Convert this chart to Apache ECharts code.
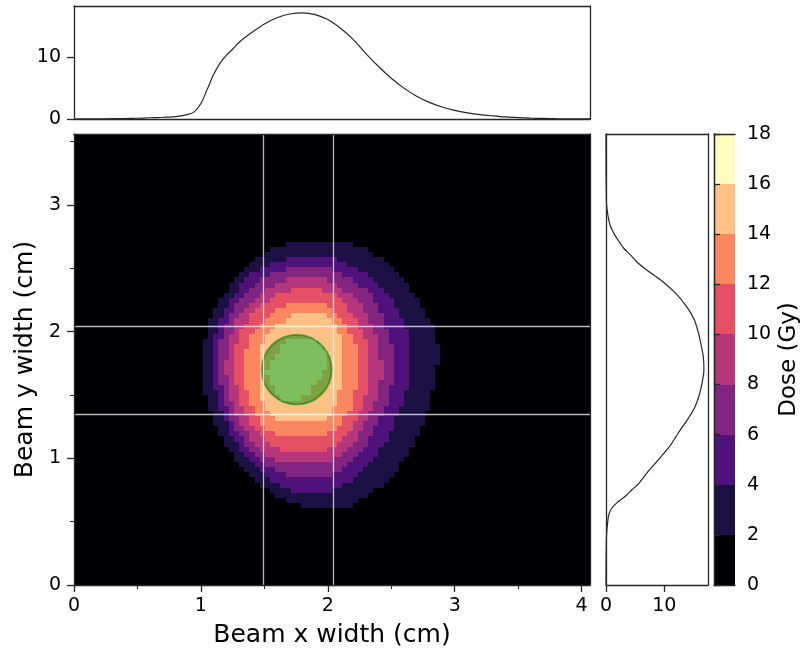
<!DOCTYPE html>
<html>
<head>
<meta charset="utf-8">
<script src="https://cdn.jsdelivr.net/npm/echarts@6/dist/echarts.min.js"></script>
<style>
  html, body { margin: 0; padding: 0; background: #ffffff; }
  #chart { width: 805px; height: 654px; }
</style>
</head>
<body>
<div id="chart"></div>
<script>
// ---- Dose bands (Gy) and the colour of each band ----
const doseLevels = [0, 2, 4, 6, 8, 10, 12, 14, 16, 18];
const bandColors = ['#000004', '#1c1044', '#4f127b', '#812581', '#b5367a',
                    '#e55064', '#fb8761', '#fec287', '#fcfdbf'];

// ---- Isodose outlines, rows of [y, xLeft, xRight] in cm, from top to bottom ----
const iso2 = [
  [2.71, 1.74, 2.16], [2.66, 1.58, 2.30], [2.565, 1.43, 2.44], [2.434, 1.29, 2.57],
  [2.302, 1.18, 2.68], [2.171, 1.11, 2.76], [2.039, 1.06, 2.83], [1.908, 1.025, 2.87],
  [1.776, 1.02, 2.875], [1.645, 1.02, 2.85], [1.513, 1.03, 2.82], [1.381, 1.07, 2.79],
  [1.250, 1.12, 2.74], [1.118, 1.19, 2.68], [0.987, 1.28, 2.60], [0.855, 1.40, 2.50],
  [0.724, 1.56, 2.35], [0.645, 1.72, 2.21], [0.592, 1.87, 2.12]
];
const iso4 = [
  [2.584, 1.70, 2.03], [2.50, 1.49, 2.22], [2.434, 1.38, 2.355], [2.302, 1.265, 2.47],
  [2.171, 1.186, 2.55], [2.039, 1.133, 2.62], [1.908, 1.094, 2.66], [1.776, 1.094, 2.66],
  [1.645, 1.094, 2.64], [1.513, 1.12, 2.62], [1.381, 1.16, 2.565], [1.25, 1.21, 2.51],
  [1.118, 1.278, 2.447], [0.987, 1.383, 2.355], [0.855, 1.514, 2.224], [0.776, 1.646, 2.092],
  [0.737, 1.738, 2.027]
];
const iso6 = [
  [2.50, 1.70, 1.99], [2.434, 1.514, 2.171], [2.302, 1.357, 2.329], [2.171, 1.252, 2.408],
  [2.039, 1.186, 2.46], [1.908, 1.147, 2.50], [1.776, 1.141, 2.526], [1.645, 1.147, 2.526],
  [1.513, 1.173, 2.486], [1.381, 1.212, 2.447], [1.25, 1.265, 2.381], [1.118, 1.344, 2.316],
  [0.987, 1.449, 2.211], [0.882, 1.619, 2.066], [0.855, 1.698, 2.014]
];
const iso8 = [
  [2.421, 1.70, 1.96], [2.302, 1.475, 2.171], [2.171, 1.331, 2.289], [2.039, 1.252, 2.355],
  [1.908, 1.212, 2.408], [1.776, 1.199, 2.421], [1.645, 1.199, 2.421], [1.513, 1.226, 2.395],
  [1.381, 1.265, 2.342], [1.25, 1.331, 2.276], [1.118, 1.422, 2.197], [1.013, 1.541, 2.092],
  [0.96, 1.672, 1.987]
];
const iso10 = [
  [2.329, 1.725, 1.935], [2.302, 1.619, 2.04], [2.171, 1.436, 2.171], [2.039, 1.331, 2.25],
  [1.908, 1.278, 2.303], [1.776, 1.265, 2.324], [1.645, 1.265, 2.324], [1.513, 1.291, 2.303],
  [1.381, 1.331, 2.263], [1.25, 1.409, 2.197], [1.118, 1.514, 2.092], [1.066, 1.619, 1.987]
];
const iso12 = [
  [2.236, 1.698, 1.935], [2.171, 1.593, 2.04], [2.039, 1.449, 2.145], [1.908, 1.37, 2.211],
  [1.776, 1.344, 2.237], [1.645, 1.344, 2.237], [1.513, 1.37, 2.211], [1.381, 1.409, 2.171],
  [1.25, 1.501, 2.092], [1.158, 1.619, 1.961]
];
const iso14 = [
  [2.158, 1.751, 1.961], [2.039, 1.593, 2.066], [1.908, 1.475, 2.119], [1.776, 1.449, 2.119],
  [1.645, 1.449, 2.119], [1.513, 1.462, 2.092], [1.381, 1.514, 2.04], [1.276, 1.619, 1.935]
];
const iso16 = [
  [1.95, 1.70, 1.84], [1.90, 1.64, 1.96], [1.83, 1.60, 2.00], [1.75, 1.55, 2.00],
  [1.70, 1.52, 1.97], [1.60, 1.54, 1.91], [1.50, 1.60, 1.85], [1.45, 1.66, 1.76]
];

// ---- Dose profiles along x (top panel) and along y (right panel) ----
const xProfilePos = [0, 0.1, 0.2, 0.3, 0.4, 0.5, 0.6, 0.7, 0.8, 0.9, 0.95, 1.0, 1.05, 1.1, 1.15,
  1.2, 1.25, 1.3, 1.4, 1.5, 1.6, 1.7, 1.8, 1.9, 2.0, 2.1, 2.2, 2.3, 2.4, 2.5, 2.6, 2.7, 2.8,
  2.9, 3.0, 3.1, 3.2, 3.3, 3.4, 3.5, 3.6, 3.7, 3.8, 3.9, 4.0, 4.066];
const xProfileDose = [0.0, 0.02, 0.03, 0.05, 0.08, 0.12, 0.2, 0.28, 0.4, 0.75, 1.2, 2.5, 4.8, 7.2, 9.0,
  10.3, 11.3, 12.4, 14.0, 15.4, 16.4, 17.0, 17.2, 16.9, 16.1, 14.7, 12.9, 10.6, 8.5, 6.6, 5.0, 3.7, 2.7,
  1.95, 1.4, 1.0, 0.7, 0.5, 0.33, 0.22, 0.14, 0.09, 0.05, 0.03, 0.02, 0.01];
const yProfilePos = [0, 0.2, 0.3, 0.4, 0.5, 0.55, 0.6, 0.65, 0.7, 0.75, 0.8, 0.9, 1.0, 1.1, 1.2,
  1.3, 1.4, 1.5, 1.6, 1.7, 1.8, 1.9, 2.0, 2.1, 2.2, 2.3, 2.4, 2.5, 2.55, 2.6, 2.66, 2.7, 2.76,
  2.8, 2.84, 2.9, 3.0, 3.1, 3.2, 3.3, 3.4, 3.56];
const yProfileDose = [0, 0.02, 0.04, 0.1, 0.3, 0.45, 0.9, 1.9, 3.3, 4.4, 5.6, 7.3, 9.2, 11.0, 12.4,
  13.9, 15.2, 16.0, 16.5, 16.8, 16.7, 16.3, 15.8, 15.1, 13.8, 12.0, 9.6, 6.6, 5.3, 4.3, 3.0, 2.4, 1.55,
  1.1, 0.7, 0.4, 0.1, 0.05, 0.02, 0.01, 0, 0];

// ---- Reference lines and target ----
const crossX = [1.49, 2.04];
const crossY = [2.035, 1.35];
const targetCenter = [1.755, 1.70];
const targetRadius = [0.275];

// ---- Axis extents and ticks ----
const xRange = [0, 4.066];
const yRange = [0, 3.56];
const xTicks = [0, 1, 2, 3, 4];
const yTicks = [0, 1, 2, 3];
const minorTicks = [0.5, 1.5, 2.5, 3.5];
const profileTicks = [0, 10];
const gridCells = [100, 88];

// Rasterise the isodose outlines onto the dose grid
const isoOutlines = [iso2, iso4, iso6, iso8, iso10, iso12, iso14, iso16];
function edgesAt(rows, y) {
  if (y > rows[0][0] || y < rows[rows.length - 1][0]) return null;
  for (let k = 0; k < rows.length - 1; k++) {
    const a = rows[k], b = rows[k + 1];
    if (y <= a[0] && y >= b[0]) {
      const t = (a[0] - y) / (a[0] - b[0]);
      return [a[1] + (b[1] - a[1]) * t, a[2] + (b[2] - a[2]) * t];
    }
  }
  return null;
}
const dx = (xRange[1] - xRange[0]) / gridCells[0];
const dy = (yRange[1] - yRange[0]) / gridCells[1];
const cells = [];
for (let j = 0; j < gridCells[1]; j++) {
  for (let i = 0; i < gridCells[0]; i++) {
    const cx = (i + 0.5) * dx, cy = (j + 0.5) * dy;
    let band = 0;
    isoOutlines.forEach((rows, k) => {
      const e = edgesAt(rows, cy);
      if (e && cx >= e[0] && cx <= e[1]) band = k + 1;
    });
    cells.push([i * dx, j * dy, (i + 1) * dx, (j + 1) * dy, band]);
  }
}
const colorbarBands = [];
for (let k = 0; k < doseLevels.length - 1; k++) {
  colorbarBands.push([0, doseLevels[k], 1, doseLevels[k + 1], k]);
}

function rectItem(params, api) {
  const p0 = api.coord([api.value(0), api.value(3)]);
  const p1 = api.coord([api.value(2), api.value(1)]);
  const x0 = Math.round(p0[0]), y0 = Math.round(p0[1]);
  const x1 = Math.round(p1[0]), y1 = Math.round(p1[1]);
  return {
    type: 'rect',
    shape: { x: x0, y: y0, width: x1 - x0, height: y1 - y0 },
    style: { fill: bandColors[api.value(4)] }
  };
}

const FONT = 'DejaVu Sans';
const INK = '#262626';
const tickLabel = { color: '#000', fontSize: 19, fontFamily: FONT };
function frameAxis(grid, position, extra) {
  return Object.assign({
    type: 'value', gridIndex: grid, position: position, z: 10,
    axisLine: { show: true, onZero: false, lineStyle: { color: INK, width: 1.3 } },
    axisTick: { show: false }, axisLabel: { show: false }, splitLine: { show: false }
  }, extra || {});
}
function tickAxis(grid, position, range, ticks, extra) {
  return Object.assign({
    type: 'value', gridIndex: grid, position: position, z: 10,
    min: range[0], max: range[1],
    axisLine: { show: true, onZero: false, lineStyle: { color: INK, width: 1.3 } },
    axisTick: { show: true, length: 7, customValues: ticks, lineStyle: { color: INK, width: 1.3 } },
    axisLabel: Object.assign({ customValues: ticks, margin: 12 }, tickLabel),
    splitLine: { show: false }
  }, extra || {});
}
function minorAxis(grid, position, range) {
  return {
    type: 'value', gridIndex: grid, position: position, z: 10,
    min: range[0], max: range[1],
    axisLine: { show: false },
    axisTick: { show: true, length: 4, customValues: minorTicks, lineStyle: { color: INK, width: 1 } },
    axisLabel: { show: false }, splitLine: { show: false }
  };
}

const chart = echarts.init(document.getElementById('chart'), null, { renderer: 'canvas' });
chart.setOption({
  animation: false,
  backgroundColor: '#ffffff',
  textStyle: { fontFamily: FONT },
  grid: [
    { left: 74, top: 134, width: 516, height: 451, outerBoundsMode: 'none' },
    { left: 74, top: 6, width: 516, height: 113, outerBoundsMode: 'none' },
    { left: 606, top: 134, width: 102, height: 451, outerBoundsMode: 'none' },
    { left: 714, top: 134, width: 21, height: 451, outerBoundsMode: 'none' }
  ],
  xAxis: [
    tickAxis(0, 'bottom', xRange, xTicks, {
      name: 'Beam x width (cm)', nameLocation: 'middle', nameGap: 38,
      nameTextStyle: { color: '#000', fontSize: 25, fontFamily: FONT }
    }),
    minorAxis(0, 'bottom', xRange),
    frameAxis(0, 'top', { min: xRange[0], max: xRange[1] }),
    frameAxis(1, 'bottom', { min: xRange[0], max: xRange[1] }),
    frameAxis(1, 'top', { min: xRange[0], max: xRange[1] }),
    tickAxis(2, 'bottom', [0, 17.5], profileTicks),
    frameAxis(2, 'top', { min: 0, max: 17.5 }),
    frameAxis(3, 'bottom', { min: 0, max: 1 }),
    frameAxis(3, 'top', { min: 0, max: 1 })
  ],
  yAxis: [
    tickAxis(0, 'left', yRange, yTicks, {
      name: 'Beam y width (cm)', nameLocation: 'middle', nameGap: 36,
      nameTextStyle: { color: '#000', fontSize: 25, fontFamily: FONT },
      axisLabel: Object.assign({ customValues: yTicks, margin: 13 }, tickLabel)
    }),
    minorAxis(0, 'left', yRange),
    frameAxis(0, 'right', { min: yRange[0], max: yRange[1] }),
    tickAxis(1, 'left', [0, 18.3], profileTicks, {
      axisLabel: Object.assign({ customValues: profileTicks, margin: 13 }, tickLabel)
    }),
    frameAxis(1, 'right', { min: 0, max: 18.3 }),
    frameAxis(2, 'left', { min: yRange[0], max: yRange[1] }),
    frameAxis(2, 'right', { min: yRange[0], max: yRange[1] }),
    frameAxis(3, 'left', { min: 0, max: 18 }),
    {
      type: 'value', gridIndex: 3, position: 'right', z: 10, min: 0, max: 18, interval: 2,
      axisLine: { show: true, lineStyle: { color: INK, width: 1.3 } },
      axisTick: { show: true, length: 6, lineStyle: { color: INK, width: 1.3 } },
      axisLabel: Object.assign({ margin: 12 }, tickLabel),
      splitLine: { show: false },
      name: 'Dose (Gy)', nameLocation: 'middle', nameGap: 43, nameRotate: 90,
      nameTextStyle: { color: '#000', fontSize: 23, fontFamily: FONT }
    }
  ],
  series: [
    {
      // dose map
      type: 'custom', xAxisIndex: 0, yAxisIndex: 0, clip: true, progressive: 0,
      renderItem: rectItem, data: cells, silent: true
    },
    {
      // target circle with the reference lines
      type: 'custom', xAxisIndex: 0, yAxisIndex: 0, clip: true, silent: true, z: 3,
      data: [[targetCenter[0], targetCenter[1], targetRadius[0]]],
      renderItem: function (params, api) {
        const c = api.coord([api.value(0), api.value(1)]);
        const r = api.size([api.value(2), api.value(2)]);
        return {
          type: 'circle',
          shape: { cx: c[0], cy: c[1], r: (r[0] + r[1]) / 2 },
          style: { fill: 'rgba(0,128,0,0.5)', stroke: 'rgba(0,120,0,0.55)', lineWidth: 2 }
        };
      },
      markLine: {
        silent: true, symbol: ['none', 'none'], label: { show: false },
        lineStyle: { color: 'rgba(255,255,255,0.72)', width: 1.3, type: 'solid' },
        data: crossX.map(v => ({ xAxis: v })).concat(crossY.map(v => ({ yAxis: v })))
      }
    },
    {
      type: 'line', xAxisIndex: 3, yAxisIndex: 3, showSymbol: false, smooth: 0.3,
      lineStyle: { color: INK, width: 1.2 }, silent: true,
      data: xProfilePos.map((x, i) => [x, xProfileDose[i]])
    },
    {
      type: 'line', xAxisIndex: 5, yAxisIndex: 5, showSymbol: false, smooth: 0.3,
      lineStyle: { color: INK, width: 1.2 }, silent: true,
      data: yProfilePos.map((y, i) => [yProfileDose[i], y])
    },
    {
      // colour bar
      type: 'custom', xAxisIndex: 7, yAxisIndex: 7, silent: true,
      renderItem: rectItem, data: colorbarBands
    }
  ]
});
</script>
</body>
</html>
